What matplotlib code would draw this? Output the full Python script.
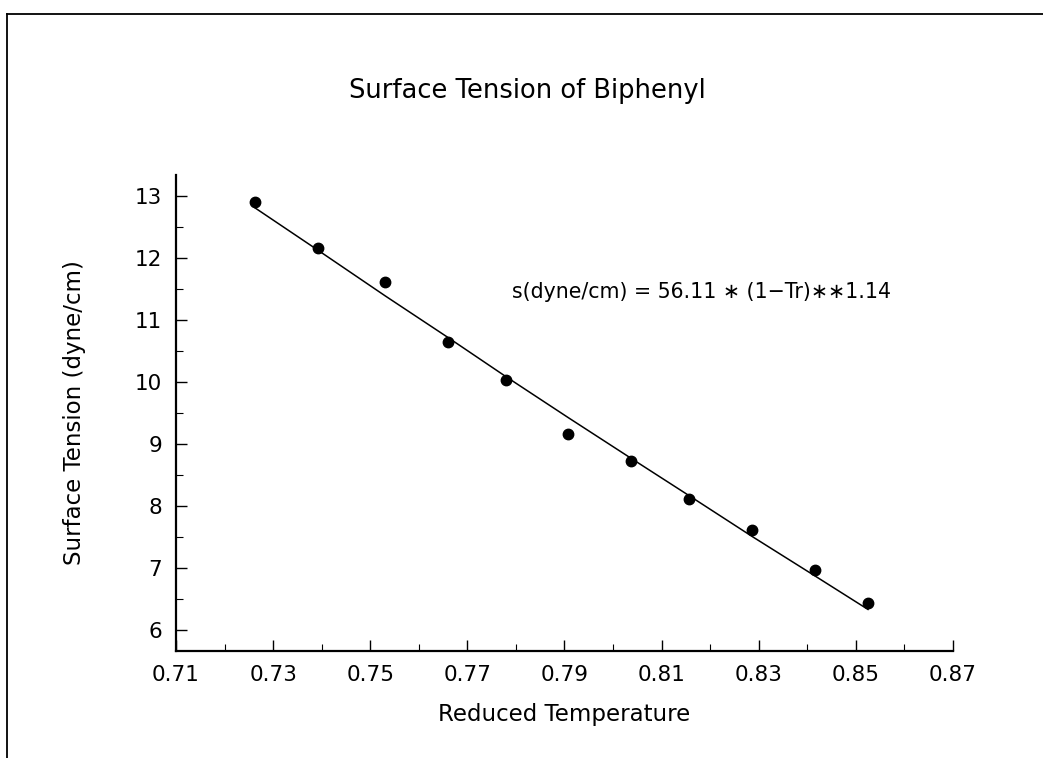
import numpy as np
import matplotlib
matplotlib.use("Agg")
import matplotlib.pyplot as plt
from matplotlib.lines import Line2D
from matplotlib.ticker import FixedLocator, FormatStrFormatter

# measured points (reduced temperature, surface tension in dyne/cm)
tr = [0.7263, 0.7392, 0.7531, 0.7660, 0.7779, 0.7907, 0.8037, 0.8156, 0.8286, 0.8416, 0.8525]
sigma = [12.90, 12.16, 11.61, 10.65, 10.03, 9.16, 8.72, 8.12, 7.62, 6.97, 6.43]

# fitted curve as drawn, read at the same temperatures
fit_sigma = [12.81, 12.13, 11.39, 10.72, 10.09, 9.43, 8.77, 8.17, 7.51, 6.87, 6.33]

x_major = [0.71, 0.73, 0.75, 0.77, 0.79, 0.81, 0.83, 0.85, 0.87]
x_minor = [0.72, 0.74, 0.76, 0.78, 0.80, 0.82, 0.84, 0.86]
y_major = [6, 7, 8, 9, 10, 11, 12, 13]
y_minor = [6.5, 7.5, 8.5, 9.5, 10.5, 11.5, 12.5]

title = "Surface Tension of Biphenyl"
xlabel = "Reduced Temperature"
ylabel = "Surface Tension (dyne/cm)"
fit_label = "s(dyne/cm) = 56.11 \u2217 (1\u2212Tr)\u2217\u22171.14"

plt.rcParams['font.family'] = ['DejaVu Sans']

fig = plt.figure(figsize=(10.43, 7.58), dpi=100)
ax = fig.add_axes([0.1687, 0.1412, 0.9137 - 0.1687, 0.769 - 0.1412])

ax.plot(tr, fit_sigma, color='black', linewidth=1.1)
ax.plot(tr, sigma, 'o', color='black', markersize=7.5)

ax.set_xlim(0.71, 0.87)
ax.set_ylim(5.66, 13.34)

ax.xaxis.set_major_locator(FixedLocator(x_major))
ax.xaxis.set_minor_locator(FixedLocator(x_minor))
ax.xaxis.set_major_formatter(FormatStrFormatter('%.2f'))
ax.yaxis.set_major_locator(FixedLocator(y_major))
ax.yaxis.set_minor_locator(FixedLocator(y_minor))

for side in ['top', 'right']:
    ax.spines[side].set_visible(False)
for side in ['left', 'bottom']:
    ax.spines[side].set_linewidth(1.6)

ax.tick_params(which='major', direction='in', length=8, width=1.0, labelsize=15.5, pad=10)
ax.tick_params(which='minor', direction='in', length=5, width=0.8)

ax.set_xlabel(xlabel, fontsize=16.5, labelpad=13)
ax.set_ylabel(ylabel, fontsize=16.5, labelpad=35)

fig.text(0.506, 0.880, title, fontsize=18.5, ha='center', va='center')
ax.text(0.7791, 11.46, fit_label, fontsize=14.8, ha='left', va='center')

# page border of the scanned figure
fig.add_artist(Line2D([0.007, 1.0], [1 - 13.5 / 758, 1 - 13.5 / 758],
                      transform=fig.transFigure, color='black', linewidth=1.3))
fig.add_artist(Line2D([0.007, 0.007], [0.0, 1 - 13.5 / 758],
                      transform=fig.transFigure, color='black', linewidth=1.3))

fig.savefig('out.png', dpi=100)
